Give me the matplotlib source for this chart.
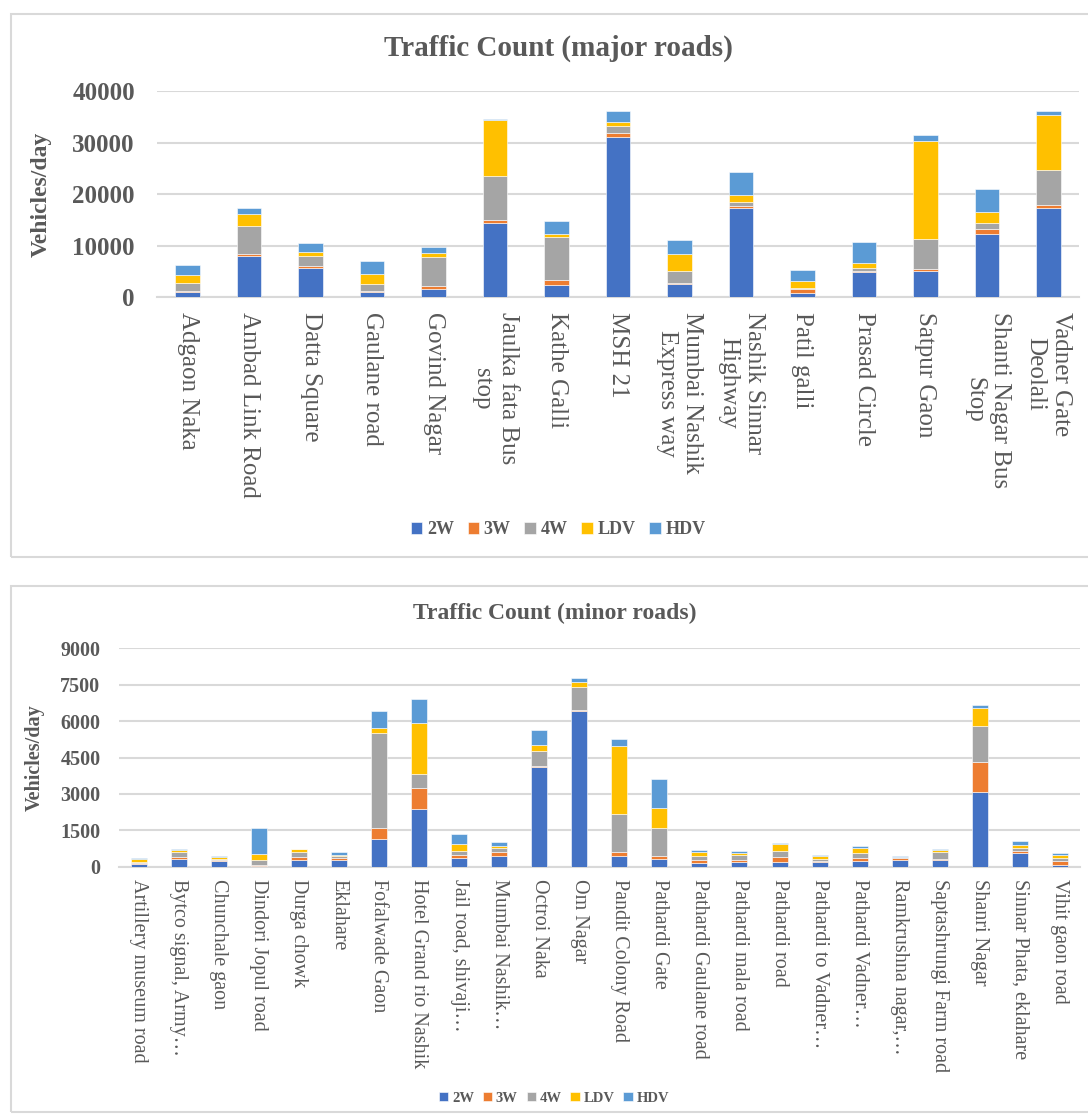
import matplotlib
matplotlib.use("Agg")
import matplotlib.pyplot as plt
import matplotlib.patches as patches
import numpy as np

plt.rcParams['font.family'] = ['Liberation Serif', 'DejaVu Serif']

# ---- data: major roads ----
major_roads = ["Adgaon Naka", "Ambad Link Road", "Datta Square", "Gaulane road",
               "Govind Nagar", "Jaulka fata Bus\nstop", "Kathe Galli", "MSH 21",
               "Mumbai Nashik\nExpress way", "Nashik Sinnar\nHighway", "Patil galli",
               "Prasad Circle", "Satpur Gaon", "Shanti Nagar Bus\nStop",
               "Vadner Gate\nDeolali"]
major_2w = [970, 8050, 5710, 970, 1560, 14420, 2340, 31100, 2530, 17340, 780, 4870, 5060, 12270, 17340]
major_3w = [200, 390, 320, 200, 580, 450, 970, 710, 130, 260, 840, 130, 320, 970, 450]
major_4w = [1560, 5390, 1950, 1360, 5650, 8640, 8310, 1490, 2400, 780, 200, 650, 5910, 1040, 6820]
major_ldv = [1500, 2340, 710, 2010, 780, 10780, 710, 710, 3310, 1360, 1300, 910, 19090, 2210, 10780]
major_hdv = [2080, 1100, 1750, 2400, 1230, 200, 2470, 2080, 2790, 4480, 2210, 4160, 1100, 4420, 710]

# ---- data: minor roads ----
minor_roads = ["Artillery museum road", "Bytco signal, Army…", "Chunchale gaon",
               "Dindori Jopul road", "Durga chowk", "Eklahare", "Fofalwade Gaon",
               "Hotel Grand rio Nashik", "Jail road, shivaji…", "Mumbai Nashik…",
               "Octroi Naka", "Om Nagar", "Pandit Colony Road", "Pathardi Gate",
               "Pathardi Gaulane road", "Pathardi mala road", "Pathardi road",
               "Pathardi to Vadner…", "Pathardi Vadner…", "Ramkrushna nagar,…",
               "Saptashrungi Farm road", "Shanri Nagar", "Sinnar Phata, eklahare",
               "Vihit gaon road"]
minor_2w = [110, 300, 250, 30, 290, 290, 1140, 2370, 370, 450, 4120, 6420, 425, 330,
            165, 205, 205, 205, 250, 290, 260, 3090, 575, 70]
minor_3w = [55, 110, 40, 30, 110, 55, 470, 880, 120, 150, 30, 30, 190, 120,
            110, 70, 190, 40, 95, 55, 70, 1235, 80, 165]
minor_4w = [40, 190, 40, 230, 210, 110, 3900, 580, 165, 180, 620, 950, 1540, 1140,
            180, 205, 250, 70, 235, 40, 275, 1470, 110, 135]
minor_ldv = [100, 70, 70, 250, 100, 40, 220, 2100, 275, 70, 250, 205, 2830, 820,
             165, 80, 290, 110, 190, 15, 80, 755, 110, 110]
minor_hdv = [40, 55, 40, 1070, 30, 110, 690, 1000, 410, 165, 630, 180, 275, 1220,
             70, 80, 40, 40, 80, 30, 30, 110, 190, 70]

series_names = ["2W", "3W", "4W", "LDV", "HDV"]
colors = ["#4472C4", "#ED7D31", "#A5A5A5", "#FFC000", "#5B9BD5"]
grey = "#595959"

W, H = 1088, 1115
fig = plt.figure(figsize=(W / 100, H / 100), dpi=100)


def px_axes(left, top, right, bottom):
    return fig.add_axes([left / W, 1 - bottom / H, (right - left) / W, (bottom - top) / H])


def border(x0, y0, x1, y1):
    fig.patches.append(patches.Rectangle((x0 / W, 1 - y1 / H), (x1 - x0) / W, (y1 - y0) / H,
                                         transform=fig.transFigure, fill=False,
                                         edgecolor="#D9D9D9", linewidth=1.5))


def stacked(ax, labels, data, ymax, step, tick_size, label_size, ypad, xpad):
    x = np.arange(len(labels))
    bottom = np.zeros(len(labels))
    handles = []
    for vals, name, c in zip(data, series_names, colors):
        b = ax.bar(x, vals, 0.4, bottom=bottom, color=c, label=name,
                   edgecolor="white", linewidth=0.4, zorder=3)
        handles.append(b)
        bottom += np.array(vals)
    ax.set_xlim(-0.5, len(labels) - 0.5)
    ax.set_ylim(0, ymax)
    ax.set_yticks(np.arange(0, ymax + 1, step))
    ax.yaxis.grid(True, color="#D9D9D9", linewidth=1.5, zorder=0)
    for s in ["top", "right", "left"]:
        ax.spines[s].set_visible(False)
    ax.spines["bottom"].set_color("#D9D9D9")
    ax.spines["bottom"].set_linewidth(1.5)
    ax.tick_params(axis="both", length=0)
    ax.tick_params(axis="y", pad=ypad)
    ax.tick_params(axis="x", pad=xpad)
    ax.set_xticks(x)
    ax.set_xticklabels(labels, rotation=270, ha="center", va="top",
                       multialignment="center", fontsize=label_size, color=grey)
    for t in ax.get_yticklabels():
        t.set_fontsize(tick_size)
        t.set_fontweight("bold")
        t.set_color(grey)
    return handles


# ---- top chart ----
border(11, 14, 1120, 557)
ax1 = px_axes(157, 91, 1079, 297)
h1 = stacked(ax1, major_roads, [major_2w, major_3w, major_4w, major_ldv, major_hdv],
             40000, 10000, 18, 18, 16, 11)
ax1.set_ylabel("Vehicles/day", fontsize=17, fontweight="bold", color=grey)
ax1.yaxis.set_label_coords((52 - 157) / 922, 0.5)
fig.text(558 / W, 1 - 48 / H, "Traffic Count (major roads)", ha="center", va="center",
         fontsize=21, fontweight="bold", color=grey)
fig.legend(h1, series_names, loc="center", bbox_to_anchor=(558 / W, 1 - 530 / H),
           ncol=5, frameon=False, handlelength=0.65, handleheight=0.65,
           handletextpad=0.25, columnspacing=0.75,
           prop={"size": 13, "weight": "bold"}, labelcolor=grey)

# ---- bottom chart ----
border(11, 586, 1120, 1112)
ax2 = px_axes(118.5, 648.3, 1080, 866.7)
h2 = stacked(ax2, minor_roads, [minor_2w, minor_3w, minor_4w, minor_ldv, minor_hdv],
             9000, 1500, 14.5, 14.5, 13, 9)
ax2.set_ylabel("Vehicles/day", fontsize=14.5, fontweight="bold", color=grey)
ax2.yaxis.set_label_coords((45 - 118.5) / 961.5, 0.5)
fig.text(555 / W, 1 - 613 / H, "Traffic Count (minor roads)", ha="center", va="center",
         fontsize=17, fontweight="bold", color=grey)
fig.legend(h2, series_names, loc="center", bbox_to_anchor=(554 / W, 1 - 1098 / H),
           ncol=5, frameon=False, handlelength=0.65, handleheight=0.65,
           handletextpad=0.25, columnspacing=0.6,
           prop={"size": 10.5, "weight": "bold"}, labelcolor=grey)

fig.savefig("out.png", dpi=100)
